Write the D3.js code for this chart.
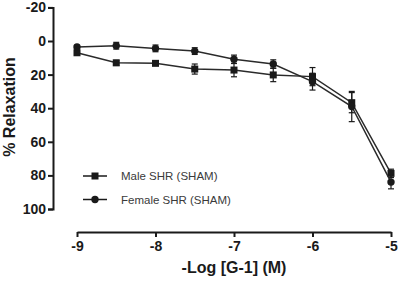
<html>
<head>
<meta charset="utf-8">
<script src="https://d3js.org/d3.v7.min.js"></script>
<style>
  body { margin: 0; background: #fff; }
  text { font-family: "Liberation Sans", Arial, sans-serif; }
</style>
</head>
<body>
<svg id="chart" width="400" height="284"></svg>
<script>
// -log concentration of G-1
const logConc = [-9, -8.5, -8, -7.5, -7, -6.5, -6, -5.5, -5];
const maleMean = [7, 13, 13.3, 16.7, 17.3, 20.2, 21.2, 36.7, 78.8];
const maleErr = [1, 1.5, 1, 3, 4, 4, 5.4, 6, 2.5];
const femaleMean = [3.6, 2.8, 4.4, 6, 10.9, 13.7, 24.2, 39, 84];
const femaleErr = [1, 2, 2, 2, 2.5, 2.5, 5, 9, 4];
const xTicks = [-9, -8, -7, -6, -5];
const yTicks = [-20, 0, 20, 40, 60, 80, 100];
const seriesNames = ["Male SHR (SHAM)", "Female SHR (SHAM)"];

const svg = d3.select('svg#chart');
const ink = '#1a1a1a';

const xScale = d3.scaleLinear().domain([-9, -5]).range([77, 391]);
const yScale = d3.scaleLinear().domain([-20, 100]).range([7.4, 209]);

// y axis
const leftAxis = d3.axisLeft(yScale).tickValues(yTicks).tickSize(5).tickPadding(2)
    .tickFormat(d => String(d));
const gy = svg.append('g')
    .attr('transform', 'translate(53,0)')
    .call(leftAxis);
gy.select('.domain').attr('stroke', ink).attr('stroke-width', 2);
gy.selectAll('.tick line').attr('stroke', ink).attr('stroke-width', 2);
gy.selectAll('.tick text')
    .attr('fill', ink)
    .style('font-size', '14px')
    .style('font-weight', 'bold')
    .style('font-family', '"Liberation Sans", Arial, sans-serif');

// x axis, ticks hang below the line
const bottomAxis = d3.axisBottom(xScale).tickValues(xTicks).tickSize(5).tickSizeOuter(0).tickPadding(4)
    .tickFormat(d => String(d));
const gx = svg.append('g')
    .attr('transform', 'translate(0,232)')
    .call(bottomAxis);
gx.select('.domain').attr('stroke', ink).attr('stroke-width', 2);
gx.selectAll('.tick line').attr('stroke', ink).attr('stroke-width', 2);
gx.selectAll('.tick text')
    .attr('fill', ink)
    .style('font-size', '14px')
    .style('font-weight', 'bold')
    .style('font-family', '"Liberation Sans", Arial, sans-serif');

// axis titles
svg.append('text')
    .attr('x', 234).attr('y', 273)
    .attr('text-anchor', 'middle')
    .attr('fill', ink)
    .style('font-size', '16px').style('font-weight', 'bold')
    .text('-Log [G-1] (M)');

svg.append('text')
    .attr('transform', 'translate(15,107) rotate(-90)')
    .attr('text-anchor', 'middle')
    .attr('fill', ink)
    .style('font-size', '16px').style('font-weight', 'bold')
    .text('% Relaxation');

// series
const series = [
    {name: seriesNames[0], mean: maleMean, err: maleErr, shape: 'square'},
    {name: seriesNames[1], mean: femaleMean, err: femaleErr, shape: 'circle'}
];

const line = d3.line().x(d => xScale(d[0])).y(d => yScale(d[1]));

function drawMarker(g, shape, x, y) {
    if (shape === 'square') {
        g.append('rect')
            .attr('x', x - 3.5).attr('y', y - 3.5)
            .attr('width', 7).attr('height', 7)
            .attr('fill', ink);
    } else {
        g.append('circle')
            .attr('cx', x).attr('cy', y).attr('r', 3.7)
            .attr('fill', ink);
    }
}

series.forEach(s => {
    const pts = logConc.map((c, i) => [c, s.mean[i]]);
    svg.append('path')
        .attr('d', line(pts))
        .attr('fill', 'none')
        .attr('stroke', '#2a2a2a')
        .attr('stroke-width', 1.5);

    const g = svg.append('g');
    logConc.forEach((c, i) => {
        const x = xScale(c);
        const y0 = yScale(s.mean[i] - s.err[i]);
        const y1 = yScale(s.mean[i] + s.err[i]);
        g.append('line').attr('x1', x).attr('x2', x).attr('y1', y0).attr('y2', y1)
            .attr('stroke', ink).attr('stroke-width', 1.2);
        [y0, y1].forEach(yy => {
            g.append('line').attr('x1', x - 3).attr('x2', x + 3).attr('y1', yy).attr('y2', yy)
                .attr('stroke', ink).attr('stroke-width', 1.2);
        });
        drawMarker(g, s.shape, x, yScale(s.mean[i]));
    });
});

// legend
series.forEach((s, i) => {
    const ly = 176 + i * 23.5;
    const g = svg.append('g');
    g.append('line').attr('x1', 83).attr('x2', 107).attr('y1', ly).attr('y2', ly)
        .attr('stroke', ink).attr('stroke-width', 1.5);
    drawMarker(g, s.shape, 95, ly);
    g.append('text')
        .attr('x', 121).attr('y', ly + 4)
        .attr('fill', '#3a3a3a')
        .style('font-size', '11.5px')
        .text(s.name);
});
</script>
</body>
</html>
